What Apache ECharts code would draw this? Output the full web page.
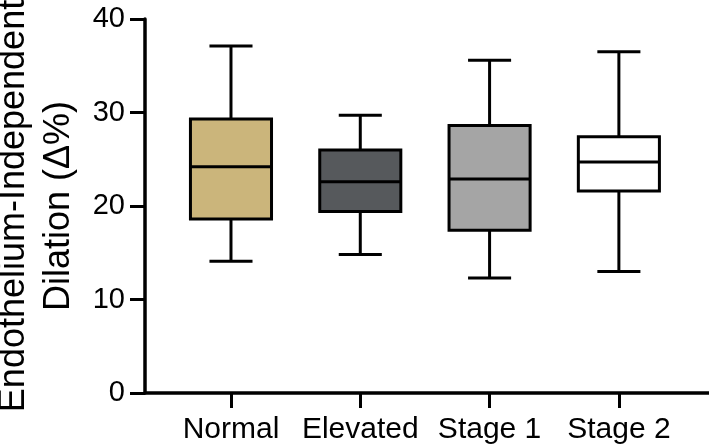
<!DOCTYPE html>
<html>
<head>
<meta charset="utf-8">
<script src="https://cdn.jsdelivr.net/npm/echarts@6/dist/echarts.min.js"></script>
<style>html,body{margin:0;padding:0;background:#fff}#c{width:709px;height:448px}</style>
</head>
<body>
<div id="c"></div>
<script>
const categories = ['Normal', 'Elevated', 'Stage 1', 'Stage 2'];
const whiskerLow = [14.1, 14.8, 12.3, 13.0];
const q1 = [18.6, 19.4, 17.4, 21.6];
const median = [24.2, 22.6, 22.9, 24.7];
const q3 = [29.3, 26.0, 28.6, 27.4];
const whiskerHigh = [37.1, 29.7, 35.6, 36.5];
const yTicks = [0, 10, 20, 30, 40];
const boxColors = ['#CBB57B', '#56595C', '#A5A5A5', '#FFFFFF'];

const data = categories.map((c, i) => [i, whiskerLow[i], q1[i], median[i], q3[i], whiskerHigh[i]]);
const FONT = 'Liberation Sans, Arial, Helvetica, sans-serif';

const chart = echarts.init(document.getElementById('c'));
chart.setOption({
  animation: false,
  grid: { left: 145, right: 0, top: 19, bottom: 55, outerBoundsMode: 'none', containLabel: false },
  xAxis: {
    type: 'value',
    min: -0.665,
    max: 3.697,
    splitLine: { show: false },
    axisLine: { show: true, lineStyle: { color: '#000', width: 3.5 } },
    axisTick: { show: true, length: 15, customValues: [0, 1, 2, 3], lineStyle: { color: '#000', width: 3 } },
    axisLabel: {
      customValues: [0, 1, 2, 3],
      formatter: v => categories[Math.round(v)],
      color: '#000', fontSize: 30, fontFamily: FONT, margin: 22
    }
  },
  yAxis: {
    type: 'value',
    min: 0, max: 40, interval: 10,
    splitLine: { show: false },
    axisLine: { show: true, onZero: false, lineStyle: { color: '#000', width: 3.5 } },
    axisTick: { show: true, length: 15, lineStyle: { color: '#000', width: 3 } },
    axisLabel: { color: '#000', fontSize: 29, fontFamily: FONT, margin: 20,
      formatter: v => (yTicks.indexOf(v) >= 0 ? String(v) : '') },
    name: 'Endothelium-Independent\nDilation (Δ%)',
    nameLocation: 'middle',
    nameRotate: 90,
    nameGap: 63,
    nameMoveOverlap: false,
    nameTextStyle: { color: '#000', fontSize: 36, fontFamily: FONT, lineHeight: 45 }
  },
  series: [{
    type: 'custom',
    data: data,
    encode: { x: 0, y: [1, 2, 3, 4, 5] },
    renderItem: function (params, api) {
      const x = api.value(0);
      const lo = api.coord([x, api.value(1)]);
      const b1 = api.coord([x, api.value(2)]);
      const md = api.coord([x, api.value(3)]);
      const b3 = api.coord([x, api.value(4)]);
      const hi = api.coord([x, api.value(5)]);
      const band = api.size([1, 0])[0];
      const bw = band * 0.627, cw = band * 0.333;
      const cx = lo[0];
      const ls = { stroke: '#000', lineWidth: 3, fill: null };
      return {
        type: 'group',
        children: [
          { type: 'line', shape: { x1: cx, y1: hi[1], x2: cx, y2: b3[1] }, style: ls },
          { type: 'line', shape: { x1: cx, y1: b1[1], x2: cx, y2: lo[1] }, style: ls },
          { type: 'line', shape: { x1: cx - cw / 2, y1: hi[1], x2: cx + cw / 2, y2: hi[1] }, style: ls },
          { type: 'line', shape: { x1: cx - cw / 2, y1: lo[1], x2: cx + cw / 2, y2: lo[1] }, style: ls },
          { type: 'rect', shape: { x: cx - bw / 2, y: b3[1], width: bw, height: b1[1] - b3[1] },
            style: { fill: boxColors[params.dataIndex], stroke: '#000', lineWidth: 3 } },
          { type: 'line', shape: { x1: cx - bw / 2, y1: md[1], x2: cx + bw / 2, y2: md[1] }, style: ls }
        ]
      };
    }
  }]
});
</script>
</body>
</html>
